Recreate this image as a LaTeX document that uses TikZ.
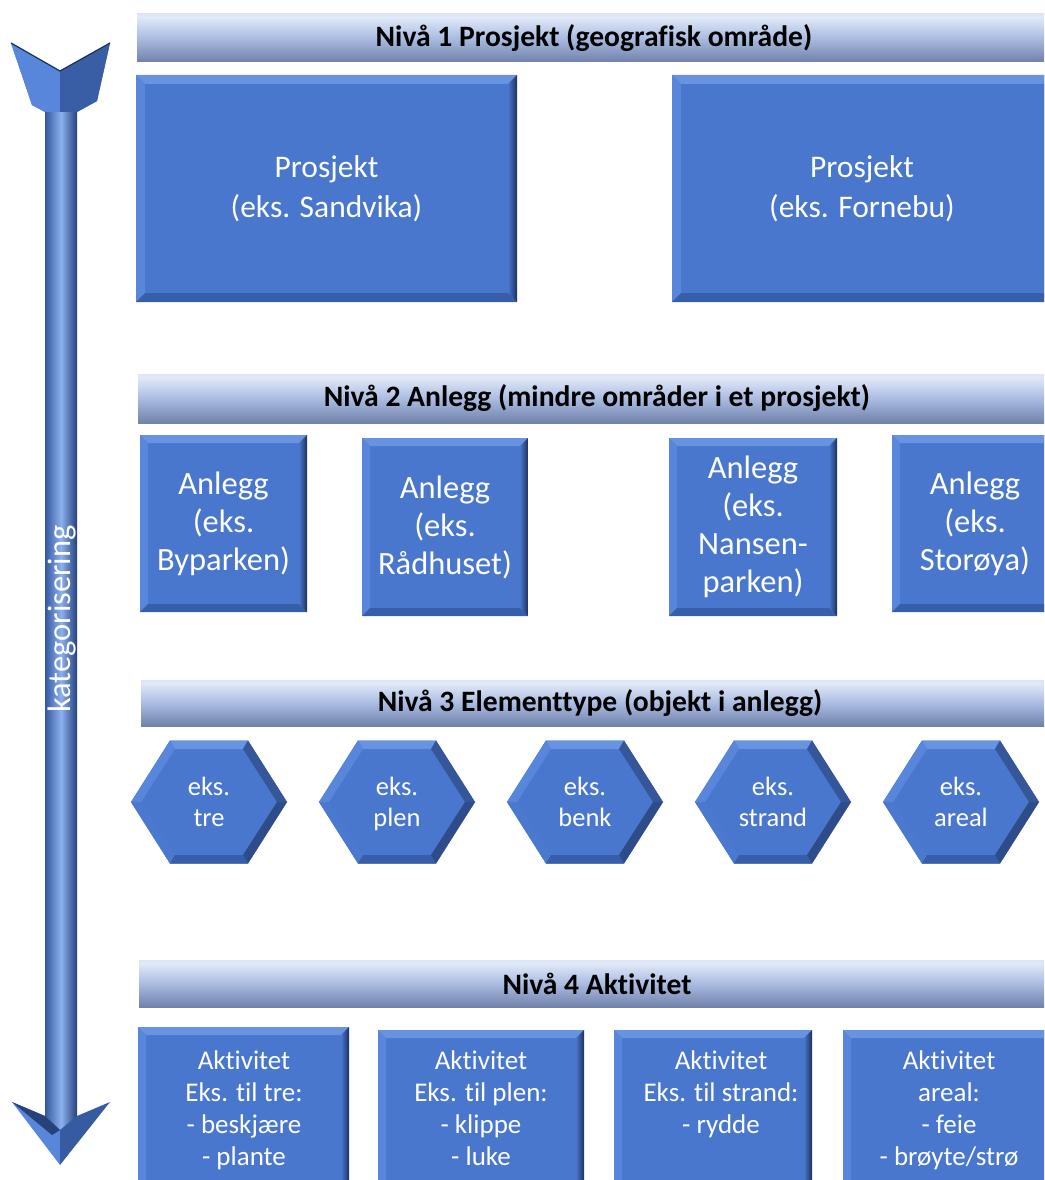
\documentclass[tikz,border=0pt]{standalone}
\usepackage{fontspec}
\setmainfont{Carlito}[Ligatures={NoCommon}]
\usetikzlibrary{calc}

\definecolor{boxblue}{RGB}{73,119,205}
\definecolor{bevtop}{RGB}{104,147,225}
\definecolor{bevleft}{RGB}{88,134,218}
\definecolor{bevbot}{RGB}{55,94,168}
\definecolor{bevdark}{RGB}{28,48,92}
\definecolor{barA}{RGB}{62,78,115}
\definecolor{barB}{RGB}{100,118,160}
\definecolor{barC}{RGB}{170,188,225}
\definecolor{barD}{RGB}{226,234,249}
\definecolor{barE}{RGB}{190,206,236}
\definecolor{barF}{RGB}{150,172,214}
\definecolor{shaftL}{RGB}{52,88,160}
\definecolor{shaftM}{RGB}{140,176,238}
\definecolor{shaftR}{RGB}{36,64,124}

\pgfdeclareverticalshading{barshade}{100bp}{%
  color(0bp)=(barA); color(8bp)=(barA); color(20bp)=(barB); color(50bp)=(barC);
  color(72bp)=(barD); color(88bp)=(barE); color(100bp)=(barF)}

\pgfdeclarelayer{bg}
\pgfsetlayers{bg,main}

% bevelled edges of a rectangular node
\newcommand\bevelrect[2]{%
  \fill[bevtop] (#1.north west) -- (#1.north east) -- ($(#1.north east)+(-#2,#2)$) -- ($(#1.north west)+(#2,#2)$) -- cycle;
  \fill[bevleft] (#1.north west) -- ($(#1.north west)+(#2,#2)$) -- ($(#1.south west)+(#2,-#2)$) -- (#1.south west) -- cycle;
  \fill[bevbot] (#1.south west) -- (#1.south east) -- ($(#1.south east)+(-#2,-#2)$) -- ($(#1.south west)+(#2,-#2)$) -- cycle;
  \shade[left color=boxblue, right color=bevdark] (#1.north east) -- (#1.south east) -- ($(#1.south east)+(-#2,-#2)$) -- ($(#1.north east)+(-#2,#2)$) -- cycle;
}

% bevelled hexagon drawn around a point (centre of the text node)
\newcommand\hexaround[1]{%
  \begin{pgfonlayer}{bg}
    \coordinate (L) at ($(#1)+(-78,0)$);    \coordinate (Li) at ($(#1)+(-68,0)$);
    \coordinate (TL) at ($(#1)+(-39,-61.5)$); \coordinate (TLi) at ($(#1)+(-34,-53)$);
    \coordinate (TR) at ($(#1)+(39,-61.5)$);  \coordinate (TRi) at ($(#1)+(34,-53)$);
    \coordinate (R) at ($(#1)+(78,0)$);     \coordinate (Ri) at ($(#1)+(68,0)$);
    \coordinate (BR) at ($(#1)+(39,61.5)$);   \coordinate (BRi) at ($(#1)+(34,53)$);
    \coordinate (BL) at ($(#1)+(-39,61.5)$);  \coordinate (BLi) at ($(#1)+(-34,53)$);
    \fill[boxblue] (L) -- (TL) -- (TR) -- (R) -- (BR) -- (BL) -- cycle;
    \fill[bevtop] (TL) -- (TR) -- (TRi) -- (TLi) -- cycle;
    \fill[bevleft] (L) -- (TL) -- (TLi) -- (Li) -- cycle;
    \fill[boxblue!85!bevleft] (BL) -- (L) -- (Li) -- (BLi) -- cycle;
    \fill[bevbot] (BL) -- (BR) -- (BRi) -- (BLi) -- cycle;
    \fill[bevdark!60!boxblue] (BR) -- (R) -- (Ri) -- (BRi) -- cycle;
    \fill[bevdark!45!boxblue] (R) -- (TR) -- (TRi) -- (Ri) -- cycle;
  \end{pgfonlayer}
}

\tikzset{
  base/.style={inner sep=0pt, outer sep=0pt, anchor=north west},
  hdr/.style={base, shading=barshade, text=black,
    font=\bfseries\fontsize{29.6}{32}\selectfont},
  bigbox/.style={base, fill=boxblue, text=white, align=center,
    font=\fontsize{31.5}{40}\selectfont},
  midbox/.style={base, fill=boxblue, text=white, align=center,
    font=\fontsize{32.5}{38}\selectfont},
  actbox/.style={base, fill=boxblue},
  acttext/.style={text=white, align=center, inner sep=0pt,
    font=\fontsize{27}{32.3}\selectfont},
  hextext/.style={text=white, align=center, inner sep=0pt,
    font=\fontsize{26.5}{31}\selectfont},
}

\begin{document}
\begin{tikzpicture}[x=1pt,y=-1pt]
\useasboundingbox (0,0) rectangle (1044,1180);
\clip (0,0) rectangle (1044,1180);
\begin{pgfonlayer}{bg}
  \fill[white] (0,0) rectangle (1044,1180);
\end{pgfonlayer}

% ---- vertical double arrow ----
\shade[left color=shaftL, right color=shaftR, middle color=shaftM] (45,108) rectangle (77,1134);
\fill[boxblue] (11,43) -- (60,71) -- (110,43) -- (97,101) -- (77,112) -- (45,112) -- (32,105) -- cycle;
\fill[bevleft] (11,43) -- (60,71) -- (60,112) -- (45,112) -- (32,105) -- cycle;
\fill[bevdark!35!boxblue] (60,71) -- (110,43) -- (97,101) -- (77,112) -- (60,112) -- cycle;
\draw[bevdark, line width=1.2pt] (11,43) -- (60,71) -- (110,43);
\fill[bevleft] (12,1102) -- (45,1116) -- (60,1130) -- (60,1165) -- cycle;
\fill[bevdark!40!boxblue] (110,1102) -- (77,1116) -- (60,1130) -- (60,1165) -- cycle;
\fill[bevdark!75!boxblue] (12,1102) -- (45,1116) -- (60,1130) -- (52,1135) -- cycle;
\node[text=white, rotate=90, inner sep=0pt, font=\fontsize{32.5}{34}\selectfont] (kat) at (62,619) {kategorisering};

% ---- level 1 ----
\node[hdr, minimum width=914pt, minimum height=48pt] (n1) at (137,14) {Nivå 1 Prosjekt (geografisk område)};
\node[bigbox, minimum width=381pt, minimum height=227pt] (p1) at (136,75) {Prosjekt\\(eks. Sandvika)};
\node[bigbox, minimum width=380pt, minimum height=227pt] (p2) at (672,75) {Prosjekt\\(eks. Fornebu)};
\bevelrect{p1}{9}
\bevelrect{p2}{9}

% ---- level 2 ----
\node[hdr, minimum width=918pt, minimum height=49pt] (n2) at (138,374) {Nivå 2 Anlegg (mindre områder i et prosjekt)};
\node[midbox, minimum width=167pt, minimum height=177pt] (a1) at (140,435) {Anlegg\\(eks.\\Byparken)};
\node[midbox, minimum width=166pt, minimum height=178pt] (a2) at (362,438) {Anlegg\\(eks.\\Rådhuset)};
\node[midbox, minimum width=168pt, minimum height=178pt] (a3) at (669,438) {Anlegg\\(eks.\\Nansen-\\parken)};
\node[midbox, minimum width=166pt, minimum height=177pt] (a4) at (892,435) {Anlegg\\(eks.\\Storøya)};
\foreach \b in {a1,a2,a3,a4} {\bevelrect{\b}{8}}

% ---- level 3 ----
\node[hdr, minimum width=918pt, minimum height=46pt] (n3) at (141,680) {Nivå 3 Elementtype (objekt i anlegg)};
\node[hextext] (h1) at (209,805) {\strut eks.\\\strut tre};
\node[hextext] (h2) at (397,805) {\strut eks.\\\strut plen};
\node[hextext] (h3) at (585,805) {\strut eks.\\\strut benk};
\node[hextext] (h4) at (773,805) {\strut eks.\\\strut strand};
\node[hextext] (h5) at (961,805) {\strut eks.\\\strut areal};
\foreach \h in {h1,h2,h3,h4,h5} {\hexaround{$(\h)+(0,-3)$}}

% ---- level 4 ----
\node[hdr, minimum width=916pt, minimum height=47pt] (n4) at (139,960) {Nivå 4 Aktivitet};
\node[actbox, minimum width=211pt, minimum height=165pt] (b1) at (138,1027) {};
\node[actbox, minimum width=206pt, minimum height=162pt] (b2) at (378,1030) {};
\node[actbox, minimum width=198pt, minimum height=162pt] (b3) at (614,1030) {};
\node[actbox, minimum width=212pt, minimum height=162pt] (b4) at (843,1030) {};
\foreach \b in {b1,b2,b3,b4} {\bevelrect{\b}{8}}
\node[acttext] (t1) at (244,1111) {\strut Aktivitet\\\strut Eks. til tre:\\\strut - beskjære\\\strut - plante};
\node[acttext] (t2) at (481,1111) {\strut Aktivitet\\\strut Eks. til plen:\\\strut - klippe\\\strut - luke};
\node[acttext] (t3) at (721,1095) {\strut Aktivitet\\\strut Eks. til strand:\\\strut - rydde};
\node[acttext] (t4) at (949,1111) {\strut Aktivitet\\\strut areal:\\\strut - feie\\\strut - brøyte/strø};
\end{tikzpicture}
\end{document}
